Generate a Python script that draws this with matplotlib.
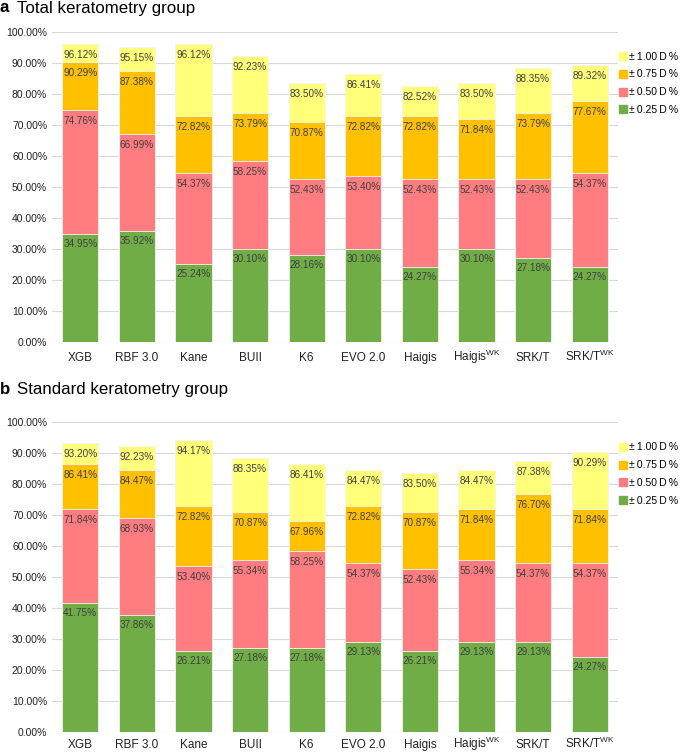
import numpy as np
import matplotlib
matplotlib.use('Agg')
import matplotlib.pyplot as plt
from matplotlib.lines import Line2D

plt.rcParams['font.family'] = ['Liberation Sans', 'DejaVu Sans']
plt.rcParams['mathtext.default'] = 'regular'

formulas = ['XGB', 'RBF 3.0', 'Kane', 'BUII', 'K6', 'EVO 2.0', 'Haigis',
            'Haigis$^{WK}$', 'SRK/T', 'SRK/T$^{WK}$']
levels = ['±\u20091.00\u2009D\u2009%', '±\u20090.75\u2009D\u2009%',
          '±\u20090.50\u2009D\u2009%', '±\u20090.25\u2009D\u2009%']

# a: total keratometry group (cumulative %)
a_025 = [34.95, 35.92, 25.24, 30.10, 28.16, 30.10, 24.27, 30.10, 27.18, 24.27]
a_050 = [74.76, 66.99, 54.37, 58.25, 52.43, 53.40, 52.43, 52.43, 52.43, 54.37]
a_075 = [90.29, 87.38, 72.82, 73.79, 70.87, 72.82, 72.82, 71.84, 73.79, 77.67]
a_100 = [96.12, 95.15, 96.12, 92.23, 83.50, 86.41, 82.52, 83.50, 88.35, 89.32]

# b: standard keratometry group
b_025 = [41.75, 37.86, 26.21, 27.18, 27.18, 29.13, 26.21, 29.13, 29.13, 24.27]
b_050 = [71.84, 68.93, 53.40, 55.34, 58.25, 54.37, 52.43, 55.34, 54.37, 54.37]
b_075 = [86.41, 84.47, 72.82, 70.87, 67.96, 72.82, 70.87, 71.84, 76.70, 71.84]
b_100 = [93.20, 92.23, 94.17, 88.35, 86.41, 84.47, 83.50, 84.47, 87.38, 90.29]

colors = ['#FFFF79', '#FFC000', '#FF7C80', '#70AD47']

fig = plt.figure(figsize=(6.85, 7.52), dpi=100)
ax_a = fig.add_axes([0.0759, 1 - 342 / 752, 0.8263, 310 / 752])
ax_b = fig.add_axes([0.0759, 1 - 732 / 752, 0.8263, 310 / 752])


def draw(ax, series, legend_top, xpad):
    x = np.arange(len(formulas))
    # tallest first so the shorter ones sit in front
    for vals, c in zip(series, colors):
        bars = ax.bar(x, vals, width=0.64, color=c, edgecolor='#f4f4f4',
                      linewidth=0.6, zorder=2)
        for b, v in zip(bars, vals):
            ax.annotate('%.2f%%' % v, (b.get_x() + b.get_width() / 2, v),
                        xytext=(0, -4), textcoords='offset points',
                        ha='center', va='top', fontsize=7.2,
                        color='#404040', zorder=3)
    ax.set_xlim(-0.5, len(formulas) - 0.5)
    ax.set_ylim(0, 100)
    ax.set_yticks(np.arange(0, 101, 10))
    ax.set_yticklabels(['%.2f%%' % t for t in np.arange(0, 101, 10)])
    ax.set_xticks(x)
    ax.set_xticklabels(formulas)
    ax.tick_params(length=0, labelsize=7.5, colors='#222222')
    ax.tick_params(axis='x', labelsize=8.5, pad=xpad)
    for lbl in ax.get_xticklabels():
        lbl.set_va('baseline')
    ax.grid(axis='y', color='#d9d9d9', linewidth=0.8, zorder=0)
    for s in ax.spines.values():
        s.set_visible(False)
    handles = [Line2D([], [], marker='s', linestyle='none', markersize=5.5,
                      markerfacecolor=c, markeredgecolor=c) for c in colors]
    ax.legend(handles, levels, loc='upper left', bbox_to_anchor=(1.0, legend_top),
              frameon=False, fontsize=7.5, handletextpad=0.15, labelspacing=0.75,
              handlelength=0.9, borderaxespad=0, borderpad=0)


draw(ax_a, [a_100, a_075, a_050, a_025], 0.937, 14)
draw(ax_b, [b_100, b_075, b_050, b_025], 0.934, 11.5)

fig.text(0.0, 1 - 8 / 752, 'a', fontsize=12.2, fontweight='bold', va='center')
fig.text(0.025, 1 - 8 / 752, 'Total keratometry group', fontsize=12.2, va='center')
fig.text(0.0, 1 - 390 / 752, 'b', fontsize=12.2, fontweight='bold', va='center')
fig.text(0.025, 1 - 390 / 752, 'Standard keratometry group', fontsize=12.2, va='center')

plt.savefig('out.png', dpi=100)
